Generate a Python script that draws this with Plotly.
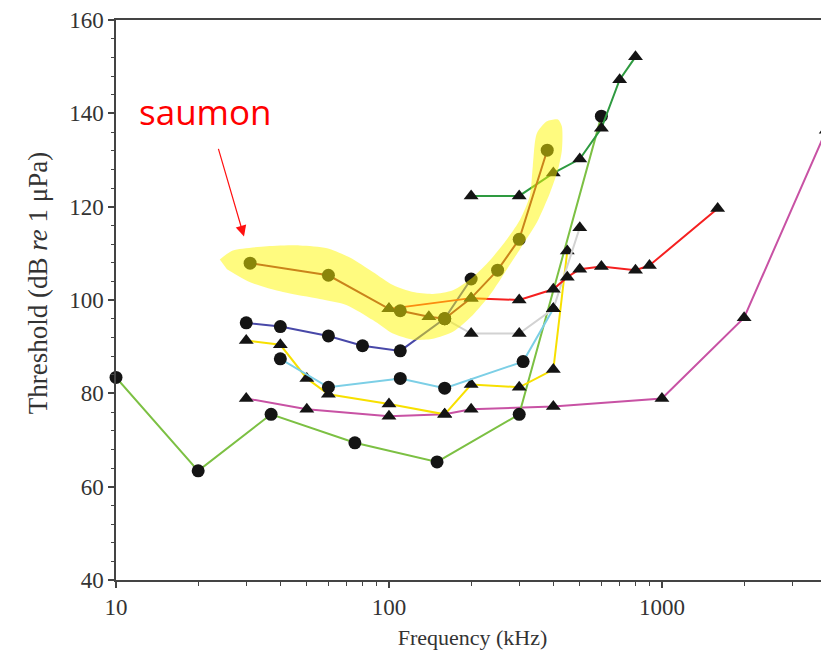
import plotly.graph_objects as go

# ---------------- data (frequency, threshold dB re 1 µPa) ----------------
lime_f = [10, 20, 37, 75, 150, 300, 600]
lime_db = [83.4, 63.4, 75.5, 69.4, 65.3, 75.5, 139.4]
lime_sym = ["circle"] * 7

dgreen_f = [200, 300, 400, 500, 600, 700, 800]
dgreen_db = [122.3, 122.3, 127.2, 130.2, 136.8, 147.2, 152.1]
dgreen_sym = ["triangle-up"] * 7

pink_f = [30, 50, 100, 160, 200, 400, 1000, 2000, 4000]
pink_db = [78.9, 76.6, 75.1, 75.5, 76.6, 77.2, 78.9, 96.2, 136.4]
pink_sym = ["triangle-up"] * 9

yellow_f = [30, 40, 50, 60, 100, 160, 200, 300, 400, 450]
yellow_db = [91.3, 90.4, 83.2, 79.8, 77.7, 75.5, 81.9, 81.3, 85.1, 110.5]
yellow_sym = ["triangle-up"] * 10

cyan_f = [40, 60, 110, 160, 310, 400]
cyan_db = [87.4, 81.3, 83.2, 81.1, 86.8, 98.1]
cyan_sym = ["circle"] * 5 + ["triangle-up"]

blue_f = [30, 40, 60, 80, 110, 160, 200]
blue_db = [95.1, 94.3, 92.3, 90.2, 89.1, 96.0, 104.5]
blue_sym = ["circle"] * 7

gray_f = [160, 200, 300, 400, 500]
gray_db = [96.0, 92.8, 92.8, 98.1, 115.5]
gray_sym = ["circle"] + ["triangle-up"] * 4

red_f = [100, 200, 300, 400, 450, 500, 600, 800, 900, 1600]
red_db = [98.1, 100.4, 100.0, 102.3, 104.9, 106.6, 107.2, 106.4, 107.4, 119.6]
red_sym = ["triangle-up"] * 10

salmon_f = [31, 60, 100, 110, 140, 160, 200, 250, 300, 380]
salmon_db = [107.9, 105.3, 98.1, 97.7, 96.4, 96.0, 100.4, 106.4, 113.0, 132.1]
salmon_sym = ["circle", "circle", "triangle-up", "circle", "triangle-up",
              "circle", "triangle-up", "circle", "circle", "circle"]

# highlighter outline around the salmon curve (freq, dB)
hl_f = [24.0, 26.8, 35.7, 47.2, 59.3, 71.9, 87.3, 103.4, 122.5, 145, 171.5, 203,
        234.5, 270.5, 302, 328, 336.5, 348, 379, 416, 430, 430, 416, 389, 348,
        302, 270.5, 234.5, 203, 171.5, 145, 122.5, 103.4, 87.3, 70.1, 55.8,
        40.9, 31.0, 25.5]
hl_db = [108.7, 110.6, 111.5, 111.7, 111.1, 109.1, 106.0, 103.2, 101.7, 101.3,
         102.1, 104.9, 108.5, 113.0, 117.2, 122.3, 128.7, 135.7, 138.3, 138.7,
         137.2, 132.1, 127.9, 123.0, 116.6, 110.9, 106.6, 101.1, 96.8, 93.2,
         91.7, 91.5, 92.8, 95.7, 98.9, 100.2, 101.7, 103.8, 106.6]

y_ticks = [40, 60, 80, 100, 120, 140, 160]
x_ticks = [10, 100, 1000]
x_ticklabels = ["10", "100", "1000"]

series = [
    (pink_f, pink_db, pink_sym, "#c852a4"),
    (lime_f, lime_db, lime_sym, "#7cc043"),
    (yellow_f, yellow_db, yellow_sym, "#f7e000"),
    (cyan_f, cyan_db, cyan_sym, "#7ccfe6"),
    (gray_f, gray_db, gray_sym, "#d2d2d2"),
    (blue_f, blue_db, blue_sym, "#4848a8"),
    (red_f, red_db, red_sym, "#f52020"),
    (dgreen_f, dgreen_db, dgreen_sym, "#2e9a40"),
    (salmon_f, salmon_db, salmon_sym, "#951035"),
]

fig = go.Figure()
for f, db, sym, col in series:
    fig.add_trace(go.Scatter(
        x=f, y=db, mode="lines+markers",
        line=dict(color=col, width=2),
        marker=dict(symbol=sym, color="#141414", size=13, opacity=1,
                    line=dict(width=0)),
        showlegend=False, cliponaxis=False, hoverinfo="x+y"))

# translucent yellow highlighter on top
fig.add_trace(go.Scatter(
    x=hl_f, y=hl_db, mode="lines", fill="toself",
    line=dict(width=0, shape="spline", smoothing=0.7, color="rgba(0,0,0,0)"),
    fillcolor="rgba(255,248,0,0.5)", showlegend=False, hoverinfo="skip"))

serif = "Liberation Serif, Times New Roman, serif"
# page body has an 8px margin: the figure is sized so that the plot area
# lands where the reference places it
fig.update_layout(
    width=821, height=657,
    margin=dict(l=108, r=0, t=8, b=85),
    paper_bgcolor="white", plot_bgcolor="white",
    font=dict(family=serif, size=23, color="#333333"),
    xaxis=dict(
        type="log", range=[1, 3.612],
        tickvals=x_ticks, ticktext=x_ticklabels,
        ticks="outside", ticklen=6, tickwidth=1.5, tickcolor="#444",
        showline=True, linecolor="#444", linewidth=1.5, mirror=True,
        showgrid=False, zeroline=False,
        minor=dict(ticks="outside", ticklen=4, tickwidth=1.2, tickcolor="#444",
                   dtick="D1", showgrid=False),
        title=dict(text="Frequency (kHz)", standoff=10,
                   font=dict(family=serif, size=22, color="#333")),
        tickfont=dict(family=serif, size=23, color="#333"),
        ticklabeloverflow="allow",
    ),
    yaxis=dict(
        range=[40, 160], tickvals=y_ticks,
        ticks="outside", ticklen=6, tickwidth=1.5, tickcolor="#444",
        showline=True, linecolor="#444", linewidth=1.5,
        showgrid=False, zeroline=False,
        minor=dict(ticks="outside", ticklen=3, tickwidth=1.2, tickcolor="#444",
                   dtick=4, showgrid=False),
        tickfont=dict(family=serif, size=23, color="#333"),
        ticklabeloverflow="allow",
    ),
    annotations=[
        dict(text="Threshold (dB <i>re</i> 1 μPa)", xref="paper", yref="paper",
             x=-0.1094, y=0.530, xanchor="center", yanchor="middle",
             textangle=-90, showarrow=False,
             font=dict(family=serif, size=27, color="#333")),
        dict(text="saumon", xref="paper", yref="paper", x=0.1262, y=0.836,
             xanchor="center", yanchor="middle", showarrow=False,
             font=dict(family="Open Sans, Noto Sans, sans-serif", size=35, color="#ff0000")),
        dict(text="", xref="paper", yref="paper", x=0.1795, y=0.6135,
             ax=-26, ay=-89, showarrow=True, arrowhead=2, arrowsize=1.8,
             arrowwidth=1.2, arrowcolor="#ff1010"),
    ],
)

fig.write_html("out.html")
